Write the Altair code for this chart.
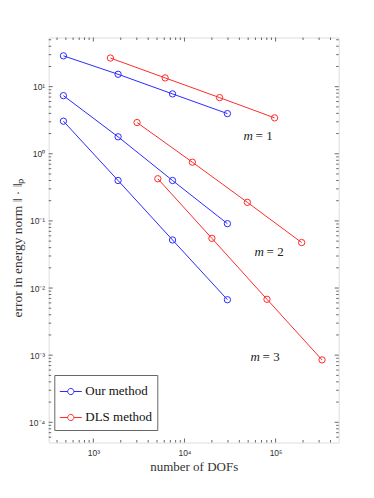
import altair as alt
import pandas as pd

# ---- data ----
our_dofs = [470, 1870, 7400, 29600]
our_m1 = [28.8, 15.3, 7.8, 3.97]
our_m2 = [7.35, 1.79, 0.40, 0.091]
our_m3 = [3.06, 0.40, 0.052, 0.0067]

dls_dofs_m1 = [1540, 6140, 24300, 97500]
dls_m1 = [26.7, 13.5, 6.87, 3.43]
dls_dofs_m2 = [3020, 12200, 49000, 193000]
dls_m2 = [2.92, 0.75, 0.189, 0.0476]
dls_dofs_m3 = [5100, 20000, 80400, 323000]
dls_m3 = [0.425, 0.055, 0.0068, 0.00085]

label_x = [44500, 58800, 53100]
label_y = [1.85, 0.035, 0.00094]
label_text = ["= 1", "= 2", "= 3"]

x_major = [1e3, 1e4, 1e5]
x_minor = [400, 500, 600, 700, 800, 900,
           2000, 3000, 4000, 5000, 6000, 7000, 8000, 9000,
           20000, 30000, 40000, 50000, 60000, 70000, 80000, 90000,
           200000, 300000, 400000]
y_major = [1e-4, 1e-3, 1e-2, 1e-1, 1e0, 1e1]
y_minor = [6e-5, 7e-5, 8e-5, 9e-5,
           2e-4, 3e-4, 4e-4, 5e-4, 6e-4, 7e-4, 8e-4, 9e-4,
           2e-3, 3e-3, 4e-3, 5e-3, 6e-3, 7e-3, 8e-3, 9e-3,
           2e-2, 3e-2, 4e-2, 5e-2, 6e-2, 7e-2, 8e-2, 9e-2,
           2e-1, 3e-1, 4e-1, 5e-1, 6e-1, 7e-1, 8e-1, 9e-1,
           2, 3, 4, 5, 6, 7, 8, 9, 20, 30, 40, 50]

methods = ["Our method", "DLS method"]
colors = ["#2a2aff", "#ff2a2a"]

rows = []
for sid, (meth, xs, ys) in enumerate([
    ("Our method", our_dofs, our_m1),
    ("Our method", our_dofs, our_m2),
    ("Our method", our_dofs, our_m3),
    ("DLS method", dls_dofs_m1, dls_m1),
    ("DLS method", dls_dofs_m2, dls_m2),
    ("DLS method", dls_dofs_m3, dls_m3),
]):
    for xv, yv in zip(xs, ys):
        rows.append({"series": sid, "method": meth, "dofs": xv, "err": yv})
df = pd.DataFrame(rows)
lab_df = pd.DataFrame({"dofs": label_x, "err": label_y, "label": label_text})

W, H = 290, 405
SERIF = "Liberation Serif"
SANS = "Liberation Sans"

xscale = alt.Scale(type="log", domain=[324, 492000], nice=False)
yscale = alt.Scale(type="log", domain=[5e-5, 54], nice=False)

sup_expr = ("'10' + (round(log(datum.value)/LN10) < 0 ? '\u207b' : '') + "
            "['\u2070','\u00b9','\u00b2','\u00b3','\u2074','\u2075','\u2076']"
            "[abs(round(log(datum.value)/LN10))]")

xaxis = alt.Axis(values=x_major, labelExpr=sup_expr, ticks=False, domain=False,
                 grid=False, labelFont=SANS, labelFontSize=8.5, labelColor="#333",
                 labelPadding=6.5, title="number of DOFs", titleFont=SERIF,
                 titleFontSize=13, titleFontWeight="normal", titleColor="#333",
                 titleBaseline="middle", titleY=24.5)
yaxis = alt.Axis(values=y_major, labelExpr=sup_expr, ticks=False, domain=False,
                 grid=False, labelFont=SANS, labelFontSize=8.5, labelColor="#333",
                 labelPadding=4, title="error in energy norm \u2016 \u00b7 \u2016\u209a",
                 titleFont=SERIF, titleFontSize=13.5, titleFontWeight="normal",
                 titleColor="#333", titleAngle=270, titleBaseline="middle",
                 titleAlign="center", titleX=-31.5, titleY=210)

X = alt.X("dofs:Q", scale=xscale, axis=xaxis)
Y = alt.Y("err:Q", scale=yscale, axis=yaxis)

legend_symbol = ("M-1,0L-0.28,0M0.28,0L1,0"
                 "M0.28,0A0.28,0.28,0,1,1,-0.28,0A0.28,0.28,0,1,1,0.28,0")

color = alt.Color("method:N", scale=alt.Scale(domain=methods, range=colors),
                  legend=alt.Legend(orient="none", legendX=5.6, legendY=337.5,
                                    title=None, symbolType=legend_symbol,
                                    symbolSize=484, symbolStrokeWidth=1,
                                    symbolFillColor="transparent",
                                    labelFont=SERIF, labelFontSize=13,
                                    labelColor="#111", strokeColor="#666",
                                    fillColor="white", padding=5, rowPadding=7,
                                    labelOffset=3))

base = alt.Chart(df)
lines = base.mark_line(strokeWidth=1).encode(x=X, y=Y, color=color,
                                             detail="series:N")
points = base.mark_point(shape="circle", filled=False, size=40, strokeWidth=1,
                         opacity=1).encode(x=X, y=Y, color=color,
                                           detail="series:N")

tick_color = "#666"


def xticks(vals, length):
    d = pd.DataFrame({"dofs": vals})
    bottom = alt.Chart(d).mark_rule(color=tick_color, strokeWidth=1).encode(
        x=X, y=alt.value(H), y2=alt.value(H - length))
    top = alt.Chart(d).mark_rule(color=tick_color, strokeWidth=1).encode(
        x=X, y=alt.value(0), y2=alt.value(length))
    return [bottom, top]


def yticks(vals, length):
    d = pd.DataFrame({"err": vals})
    left = alt.Chart(d).mark_rule(color=tick_color, strokeWidth=1).encode(
        y=Y, x=alt.value(0), x2=alt.value(length))
    right = alt.Chart(d).mark_rule(color=tick_color, strokeWidth=1).encode(
        y=Y, x=alt.value(W), x2=alt.value(W - length))
    return [left, right]


tick_layers = (xticks(x_major, 4) + xticks(x_minor, 2.5)
               + yticks(y_major, 4) + yticks(y_minor, 2.5))

m_text = alt.Chart(lab_df).mark_text(text="m", font=SERIF, fontStyle="italic",
                                     fontSize=13, align="left", baseline="middle",
                                     color="#222").encode(x=X, y=Y)
eq_text = alt.Chart(lab_df).mark_text(font=SERIF, fontSize=13, align="left",
                                      baseline="middle", dx=12, color="#222").encode(
    x=X, y=Y, text="label:N")

chart = alt.layer(lines, points, *tick_layers, m_text, eq_text).properties(
    width=W, height=H,
    autosize=alt.AutoSizeParams(type="none"),
    padding={"left": 40.7, "top": 29.5, "right": 20, "bottom": 40},
).configure_view(stroke="#666", strokeWidth=1).configure(background="white")

chart.save("out.html", embed_options={"renderer": "svg", "actions": False})
